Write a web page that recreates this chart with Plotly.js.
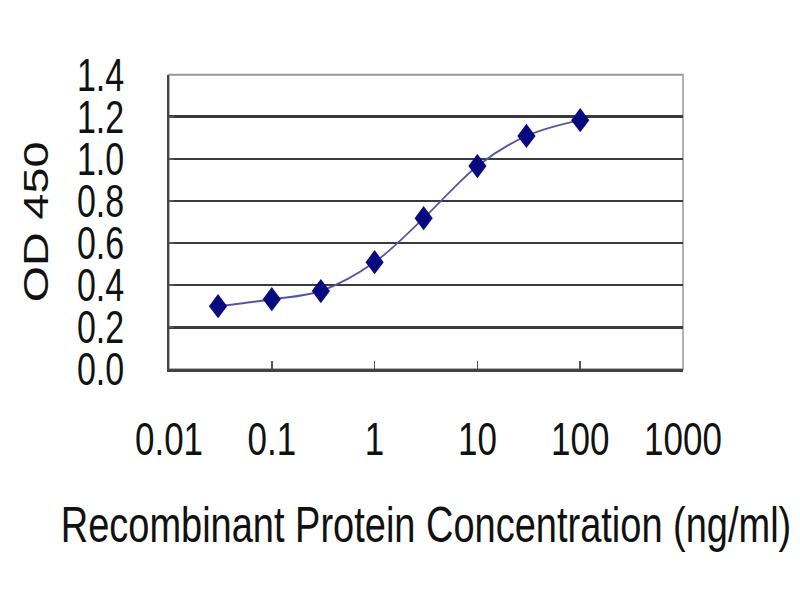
<!DOCTYPE html>
<html>
<head>
<meta charset="utf-8">
<script src="https://cdn.plot.ly/plotly-3.0.1.min.js"></script>
<style>
html,body{margin:0;padding:0;background:#fff;width:800px;height:600px;}
#wrap{position:absolute;left:0;top:0;width:800px;height:450px;transform:scale(1,1.3333333);transform-origin:0 0;}
#chart{width:800px;height:450px;}
</style>
</head>
<body>
<div id="wrap"><div id="chart"></div></div>
<script>
const concentrations = [0.03, 0.1, 0.3, 1, 3, 10, 30, 100];
const od450 = [0.30, 0.333, 0.372, 0.509, 0.718, 0.966, 1.109, 1.184];
const xTickVals = [0.01, 0.1, 1, 10, 100, 1000];
const xTickText = ['0.01', '0.1', '1', '10', '100', '1000'];
const yTickVals = [0, 0.2, 0.4, 0.6, 0.8, 1.0, 1.2, 1.4];
const yTickText = ['0.0', '0.2', '0.4', '0.6', '0.8', '1.0', '1.2', '1.4'];
const xTitle = 'Recombinant Protein Concentration (ng/ml)';
const yTitle = 'OD 450';

const fontFam = "'Liberation Sans', Arial, sans-serif";

const trace = {
  x: concentrations,
  y: od450,
  type: 'scatter',
  mode: 'lines+markers',
  line: {shape: 'spline', smoothing: 1, color: '#5454a8', width: 1.5},
  marker: {symbol: 'diamond', size: 14, color: '#0a0a80', line: {width: 0}},
  hoverinfo: 'skip'
};

const layout = {
  width: 800,
  height: 450,
  margin: {l: 169, r: 117, t: 56, b: 173, pad: 0},
  paper_bgcolor: '#ffffff',
  plot_bgcolor: '#ffffff',
  showlegend: false,
  font: {family: fontFam, color: '#111', size: 35},
  xaxis: {
    type: 'log',
    range: [-2, 3],
    tickvals: xTickVals,
    ticktext: xTickText,
    ticks: 'inside',
    ticklen: 6,
    tickwidth: 1.5,
    tickcolor: '#555',
    ticklabelstandoff: 20,
    showgrid: false,
    zeroline: false,
    showline: true,
    linecolor: '#444',
    linewidth: 2,
    tickfont: {family: fontFam, size: 35, color: '#111'},
    title: {text: xTitle, font: {family: fontFam, size: 38, color: '#111'}, standoff: 33},
    fixedrange: true
  },
  yaxis: {
    range: [0, 1.4],
    tickvals: yTickVals,
    ticktext: yTickText,
    ticks: 'inside',
    ticklen: 5,
    tickwidth: 1.5,
    tickcolor: '#555',
    ticklabelstandoff: 36,
    showgrid: true,
    gridcolor: '#3a3a3a',
    gridwidth: 2,
    zeroline: false,
    showline: true,
    linecolor: '#444',
    linewidth: 2,
    tickfont: {family: fontFam, size: 34, color: '#111'},
    title: {text: yTitle, font: {family: fontFam, size: 35, color: '#111'}, standoff: 18},
    fixedrange: true
  },
  shapes: [{
    type: 'rect', xref: 'paper', yref: 'paper', x0: 0, x1: 1, y0: 0, y1: 1,
    line: {color: '#999', width: 1.5}, layer: 'below'
  }]
};

Plotly.newPlot('chart', [trace], layout, {displayModeBar: false, staticPlot: true});
</script>
</body>
</html>
